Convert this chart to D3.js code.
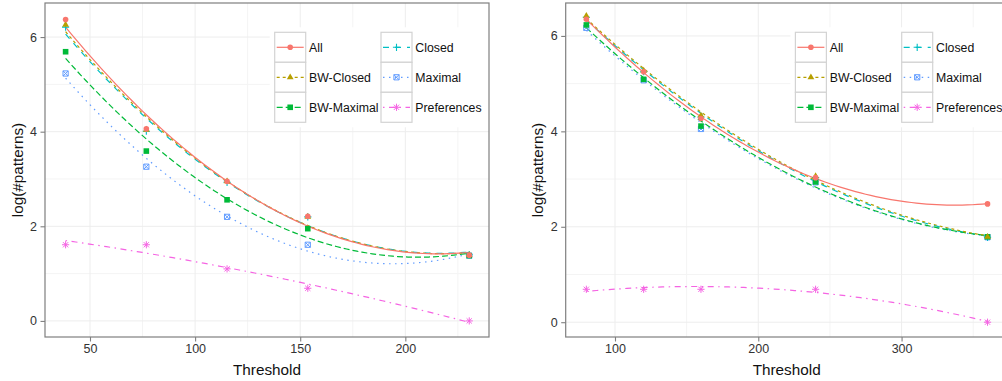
<!DOCTYPE html>
<html>
<head>
<meta charset="utf-8">
<script src="https://cdn.jsdelivr.net/npm/d3@7"></script>
<style>
  html, body { margin: 0; padding: 0; background: #fff; }
  svg { display: block; font-family: "Liberation Sans", Arial, Helvetica, sans-serif; }
</style>
</head>
<body>
<svg id="chart" width="1002" height="381"></svg>
<script>
// Pattern counts (natural log) per threshold, two datasets side by side.
const seriesNames = ["All", "BW-Closed", "BW-Maximal", "Closed", "Maximal", "Preferences"];

// Left dataset
const thresholdsLeft = [38.4, 76.8, 115.2, 153.6, 230.4];
const allLeft        = [6.37, 4.06, 2.95, 2.21, 1.39];
const bwClosedLeft   = [6.26, 4.04, 2.95, 2.20, 1.39];
const bwMaximalLeft  = [5.69, 3.59, 2.56, 1.95, 1.38];
const closedLeft     = [6.21, 4.01, 2.93, 2.20, 1.40];
const maximalLeft    = [5.23, 3.26, 2.20, 1.61, 1.38];
const prefsLeft      = [1.61, 1.61, 1.10, 0.69, 0.00];

// Right dataset
const thresholdsRight = [80, 120, 160, 240, 360];
const allRight        = [6.35, 5.25, 4.27, 3.03, 2.48];
const bwClosedRight   = [6.42, 5.27, 4.33, 3.06, 1.79];
const bwMaximalRight  = [6.23, 5.09, 4.11, 2.94, 1.79];
const closedRight     = [6.39, 5.25, 4.30, 3.03, 1.78];
const maximalRight    = [6.17, 5.07, 4.05, 2.93, 1.78];
const prefsRight      = [0.69, 0.69, 0.69, 0.69, 0.00];

// Axis ticks
const yTicks = [0, 2, 4, 6];
const yMinorTicks = [1, 3, 5];
const xTicksLeft = [50, 100, 150, 200];
const xMinorLeft = [75, 125, 175, 225];
const xTicksRight = [100, 200, 300];
const xMinorRight = [150, 250, 350];

// Styling per series
const colors = ["#F8766D", "#B79F00", "#00BA38", "#00BFC4", "#619CFF", "#F564E3"];
const dashes = [null, "3,3", "6,3", "6,6", "1.5,4.5", "1.5,4.5,6,4.5"];
const shapes = ["circle", "triangle", "square", "plus", "squarex", "asterisk"];

const svg = d3.select("#chart");

// least-squares quadratic fit y = a + b x + c x^2
function quadFit(xs, ys) {
  const n = xs.length;
  const mx = d3.mean(xs);
  let S = [[0,0,0],[0,0,0],[0,0,0]], T = [0,0,0];
  for (let i = 0; i < n; i++) {
    const u = xs[i] - mx;
    const p = [1, u, u*u];
    for (let r = 0; r < 3; r++) {
      T[r] += p[r] * ys[i];
      for (let c = 0; c < 3; c++) S[r][c] += p[r] * p[c];
    }
  }
  // Gaussian elimination
  const A = S.map((row, i) => row.concat([T[i]]));
  for (let i = 0; i < 3; i++) {
    let piv = i;
    for (let k = i + 1; k < 3; k++) if (Math.abs(A[k][i]) > Math.abs(A[piv][i])) piv = k;
    [A[i], A[piv]] = [A[piv], A[i]];
    for (let k = i + 1; k < 3; k++) {
      const f = A[k][i] / A[i][i];
      for (let c = i; c < 4; c++) A[k][c] -= f * A[i][c];
    }
  }
  const coef = [0,0,0];
  for (let i = 2; i >= 0; i--) {
    let s = A[i][3];
    for (let c = i + 1; c < 3; c++) s -= A[i][c] * coef[c];
    coef[i] = s / A[i][i];
  }
  return x => { const u = x - mx; return coef[0] + coef[1]*u + coef[2]*u*u; };
}

function drawShape(g, shape, color, x, y) {
  if (shape === "circle") {
    g.append("circle").attr("cx", x).attr("cy", y).attr("r", 2.8).attr("fill", color);
  } else if (shape === "triangle") {
    g.append("path").attr("d", d3.symbol(d3.symbolTriangle, 20)()).attr("transform", `translate(${x},${y})`).attr("fill", color);
  } else if (shape === "square") {
    g.append("rect").attr("x", x - 2.8).attr("y", y - 2.8).attr("width", 5.6).attr("height", 5.6).attr("fill", color);
  } else if (shape === "plus") {
    g.append("path").attr("d", `M${x-3.6},${y}H${x+3.6}M${x},${y-3.6}V${y+3.6}`).attr("stroke", color).attr("stroke-width", 1.1).attr("fill", "none");
  } else if (shape === "squarex") {
    g.append("path").attr("d", `M${x-2.6},${y-2.6}h5.2v5.2h-5.2zM${x-2.6},${y-2.6}l5.2,5.2M${x+2.6},${y-2.6}l-5.2,5.2`).attr("stroke", color).attr("stroke-width", 1).attr("fill", "none");
  } else if (shape === "asterisk") {
    const r = 3.6, d = 2.6;
    g.append("path").attr("d", `M${x-r},${y}H${x+r}M${x},${y-r}V${y+r}M${x-d},${y-d}L${x+d},${y+d}M${x+d},${y-d}L${x-d},${y+d}`).attr("stroke", color).attr("stroke-width", 1).attr("fill", "none");
  }
}

function drawPanel(cfg) {
  const { left, right, top, bottom, xDomain, yDomain, thresholds, series, xTicks, xMinor, id } = cfg;
  const x = d3.scaleLinear().domain(xDomain).range([left, right]);
  const y = d3.scaleLinear().domain(yDomain).range([bottom, top]);
  const g = svg.append("g");

  const clipId = "clip-" + id;
  svg.append("clipPath").attr("id", clipId).append("rect")
    .attr("x", left).attr("y", top).attr("width", right - left).attr("height", bottom - top);

  // grid
  const grid = g.append("g");
  grid.selectAll(".vmin").data(xMinor).join("line")
    .attr("x1", d => x(d)).attr("x2", d => x(d)).attr("y1", top).attr("y2", bottom)
    .attr("stroke", "#f4f4f4").attr("stroke-width", 1);
  grid.selectAll(".hmin").data(yMinorTicks).join("line")
    .attr("x1", left).attr("x2", right).attr("y1", d => y(d)).attr("y2", d => y(d))
    .attr("stroke", "#f4f4f4").attr("stroke-width", 1);
  grid.selectAll(".vmaj").data(xTicks).join("line")
    .attr("x1", d => x(d)).attr("x2", d => x(d)).attr("y1", top).attr("y2", bottom)
    .attr("stroke", "#ededed").attr("stroke-width", 1);
  grid.selectAll(".hmaj").data(yTicks).join("line")
    .attr("x1", left).attr("x2", right).attr("y1", d => y(d)).attr("y2", d => y(d))
    .attr("stroke", "#ededed").attr("stroke-width", 1);

  // fitted curves
  const curves = g.append("g").attr("clip-path", `url(#${clipId})`);
  const lo = d3.min(thresholds), hi = d3.max(thresholds);
  const xs = d3.range(80).map(i => lo + (hi - lo) * i / 79);
  const order = d3.range(series.length).reverse();
  order.forEach(i => {
    const f = quadFit(thresholds, series[i]);
    curves.append("path")
      .attr("d", d3.line().x(d => x(d)).y(d => y(f(d)))(xs))
      .attr("fill", "none").attr("stroke", colors[i]).attr("stroke-width", 1.2)
      .attr("stroke-dasharray", dashes[i]);
  });

  // points
  const pts = g.append("g");
  order.forEach(i => {
    thresholds.forEach((t, k) => drawShape(pts, shapes[i], colors[i], x(t), y(series[i][k])));
  });

  // legend
  const lg = g.append("g");
  const lx = left + 229.7, ly = 32.3, kw = 31, kh = 30, colGap = 106.3;
  lg.append("rect").attr("x", lx - 5).attr("y", ly - 5).attr("width", 220).attr("height", 3 * kh + 10)
    .attr("fill", "#fff");
  seriesNames.forEach((name, i) => {
    const col = Math.floor(i / 3), row = i % 3;
    const kx = lx + col * colGap, ky = ly + row * kh;
    lg.append("rect").attr("x", kx).attr("y", ky).attr("width", kw).attr("height", kh)
      .attr("fill", "#fff").attr("stroke", "#d3d3d3").attr("stroke-width", 1.2);
    lg.append("line").attr("x1", kx + 2).attr("x2", kx + kw - 2).attr("y1", ky + kh / 2).attr("y2", ky + kh / 2)
      .attr("stroke", colors[i]).attr("stroke-width", 1.2).attr("stroke-dasharray", dashes[i]);
    drawShape(lg, shapes[i], colors[i], kx + kw / 2, ky + kh / 2);
    lg.append("text").attr("x", kx + kw + 3.3).attr("y", ky + kh / 2).attr("dy", "0.35em")
      .attr("font-size", "12.3px").attr("fill", "#111").text(name);
  });

  // panel border
  g.append("rect").attr("x", left).attr("y", top).attr("width", right - left).attr("height", bottom - top)
    .attr("fill", "none").attr("stroke", "#7f7f7f").attr("stroke-width", 1.2);

  // axes
  const xAxis = g.append("g").attr("transform", `translate(0,${bottom})`)
    .call(d3.axisBottom(x).tickValues(xTicks).tickSize(4.5).tickPadding(3).tickFormat(d3.format("d")));
  const yAxis = g.append("g").attr("transform", `translate(${left},0)`)
    .call(d3.axisLeft(y).tickValues(yTicks).tickSize(4.5).tickPadding(3.5).tickFormat(d3.format("d")));
  [xAxis, yAxis].forEach(a => {
    a.select(".domain").remove();
    a.selectAll(".tick line").attr("stroke", "#7f7f7f").attr("stroke-width", 1.1);
    a.selectAll(".tick text").attr("fill", "#333").attr("font-size", "12.5px")
      .attr("font-family", "'Liberation Sans', Arial, sans-serif");
  });

  // axis titles
  g.append("text").attr("x", (left + Math.min(right, 1007.6)) / 2).attr("y", 375)
    .attr("text-anchor", "middle").attr("font-size", "15.3px").attr("fill", "#111").text("Threshold");
  g.append("text").attr("transform", `translate(${left - 22.5},${(top + bottom) / 2}) rotate(-90)`)
    .attr("text-anchor", "middle").attr("font-size", "15.3px").attr("fill", "#111").text("log(#patterns)");
}

drawPanel({
  id: "left", left: 45, right: 489, top: 3, bottom: 337,
  xDomain: [28.6, 239.8], yDomain: [-0.34, 6.72],
  thresholds: thresholdsLeft,
  series: [allLeft, bwClosedLeft, bwMaximalLeft, closedLeft, maximalLeft, prefsLeft],
  xTicks: xTicksLeft, xMinor: xMinorLeft
});

drawPanel({
  id: "right", left: 565.7, right: 1007.6, top: 3, bottom: 337,
  xDomain: [65.6, 374], yDomain: [-0.31, 6.69],
  thresholds: thresholdsRight,
  series: [allRight, bwClosedRight, bwMaximalRight, closedRight, maximalRight, prefsRight],
  xTicks: xTicksRight, xMinor: xMinorRight
});
</script>
</body>
</html>
